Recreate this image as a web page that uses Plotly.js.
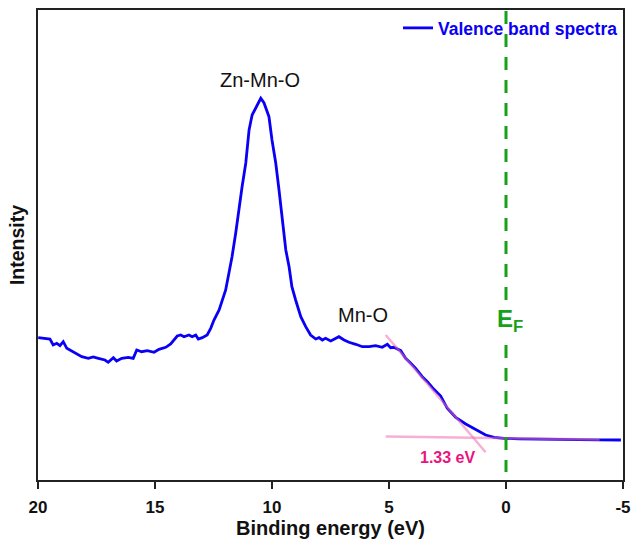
<!DOCTYPE html>
<html>
<head>
<meta charset="utf-8">
<script src="https://cdn.plot.ly/plotly-3.0.1.min.js"></script>
<style>html,body{margin:0;padding:0;background:#fff;}#chart{width:631px;height:540px;}</style>
</head>
<body>
<div id="chart"></div>
<script>
// Valence band spectrum (binding energy in eV, intensity in arbitrary units)
const energy = [19.99,19.70,19.49,19.35,19.20,19.06,18.92,18.77,18.56,18.35,18.13,17.85,17.64,17.42,17.14,17.00,16.78,16.64,16.42,16.14,15.93,15.78,15.57,15.33,15.04,14.83,14.54,14.33,14.19,14.05,13.90,13.76,13.55,13.41,13.26,13.15,12.98,12.77,12.62,12.48,12.26,11.98,11.84,11.71,11.55,11.41,11.28,11.12,10.98,10.85,10.64,10.48,10.34,10.13,10.00,9.84,9.70,9.57,9.41,9.27,9.15,8.99,8.77,8.56,8.35,8.13,7.99,7.85,7.71,7.49,7.28,7.14,6.92,6.71,6.42,6.14,5.85,5.57,5.29,5.07,4.93,4.79,4.50,4.29,4.07,3.86,3.58,3.36,3.08,2.79,2.51,2.15,1.72,1.29,0.87,0.51,0.09,-0.56,-1.54,-2.69,-3.97,-4.91];
const intensity = [142.3,141.7,141,135,136.7,134.3,138.3,131.7,129,125.7,123.3,121.7,123,121.7,120,117.7,122.3,119,121.7,122.7,121.7,130,128.3,129.3,127.7,130.7,132.7,136,140,144,145,143.3,145,143.3,145,141,142.3,145,151.7,160,170,190,207,223,247,273,293,317,350,365,375,381.7,377,363.3,340,317,290,260,230,213.3,193.3,180,163.3,153.3,145,141,142.3,140,141.7,139,141.7,143.3,140,137.7,135.7,133.3,133.3,134.3,132.7,135.7,132.3,132.7,129.3,121.7,116.7,111.7,103.3,98.3,90.7,84,71.7,62.7,56,50,45,42.7,41.7,41.2,40.7,40.5,40.2,40];

// Linear extrapolation lines (band edge tangent and baseline)
const tangentE = [5.14, 0.87];
const tangentI = [145, 27.7];
const baselineE = [5.14, -4.0];
const baselineI = [43.5, 40.5];

// Labels
const fermiLevel = 0;
const vbmText = "1.33 eV";
const xTickVals = [20, 15, 10, 5, 0, -5];
const xTickText = ["20", "15", "10", "5", "0", "-5"];

const fontFam = "Liberation Sans, Arial, sans-serif";
const blue = "#0a00f5";
const green = "#17a11a";
const pinkLine = "rgba(240,110,175,0.55)";

const traces = [
  {x: energy, y: intensity, mode: "lines", name: "Valence band spectra",
   line: {color: blue, width: 2.8}, showlegend: true},
  {x: tangentE, y: tangentI, mode: "lines", line: {color: pinkLine, width: 2.5}, showlegend: false, hoverinfo: "skip"},
  {x: baselineE, y: baselineI, mode: "lines", line: {color: pinkLine, width: 2.5}, showlegend: false, hoverinfo: "skip"}
];

const layout = {
  width: 631, height: 540,
  margin: {l: 38, r: 8, t: 10, b: 60},
  paper_bgcolor: "#fff", plot_bgcolor: "#fff",
  font: {family: fontFam, color: "#111"},
  showlegend: true,
  legend: {x: 1, y: 1, xanchor: "right", yanchor: "top", bgcolor: "rgba(0,0,0,0)",
           font: {family: fontFam, size: 17.5, color: blue, weight: "bold"}, itemwidth: 30,
           tracegroupgap: 0},
  xaxis: {range: [20, -5], tickvals: xTickVals, ticktext: xTickText,
          ticks: "outside", ticklen: 7, tickwidth: 2, tickcolor: "#222",
          ticklabelstandoff: 4,
          showline: true, linecolor: "#222", linewidth: 2, mirror: true,
          showgrid: false, zeroline: false,
          tickfont: {family: fontFam, size: 17, color: "#111", weight: "bold"},
          title: {text: "Binding energy (eV)", standoff: 5,
                  font: {family: fontFam, size: 20, color: "#111", weight: "bold"}}},
  yaxis: {range: [0, 470], showticklabels: false, ticks: "",
          showline: true, linecolor: "#222", linewidth: 2, mirror: true,
          showgrid: false, zeroline: false,
          title: {text: "Intensity", standoff: 6,
                  font: {family: fontFam, size: 19.5, color: "#111", weight: "bold"}}},
  shapes: [
    {type: "line", xref: "x", yref: "y", x0: fermiLevel, x1: fermiLevel, y0: 180, y1: 470,
     line: {color: green, width: 3, dash: "13px,10px"}},
    {type: "line", xref: "x", yref: "y", x0: fermiLevel, x1: fermiLevel, y0: 135, y1: 8,
     line: {color: green, width: 3, dash: "13px,10px"}}
  ],
  annotations: [
    {x: 10.5, y: 400, xref: "x", yref: "y", text: "Zn-Mn-O", showarrow: false,
     font: {family: fontFam, size: 20, color: "#111"}},
    {x: 6.12, y: 165, xref: "x", yref: "y", text: "Mn-O", showarrow: false,
     font: {family: fontFam, size: 20, color: "#111"}},
    {x: -0.15, y: 160, xref: "x", yref: "y", text: "E<sub>F</sub>", showarrow: false,
     font: {family: fontFam, size: 24, color: green, weight: "bold"}},
    {x: 2.52, y: 23, xref: "x", yref: "y", text: vbmText, showarrow: false,
     font: {family: fontFam, size: 16, color: "#e8157f", weight: "bold"}}
  ]
};

Plotly.newPlot("chart", traces, layout, {staticPlot: true, displayModeBar: false});
</script>
</body>
</html>
